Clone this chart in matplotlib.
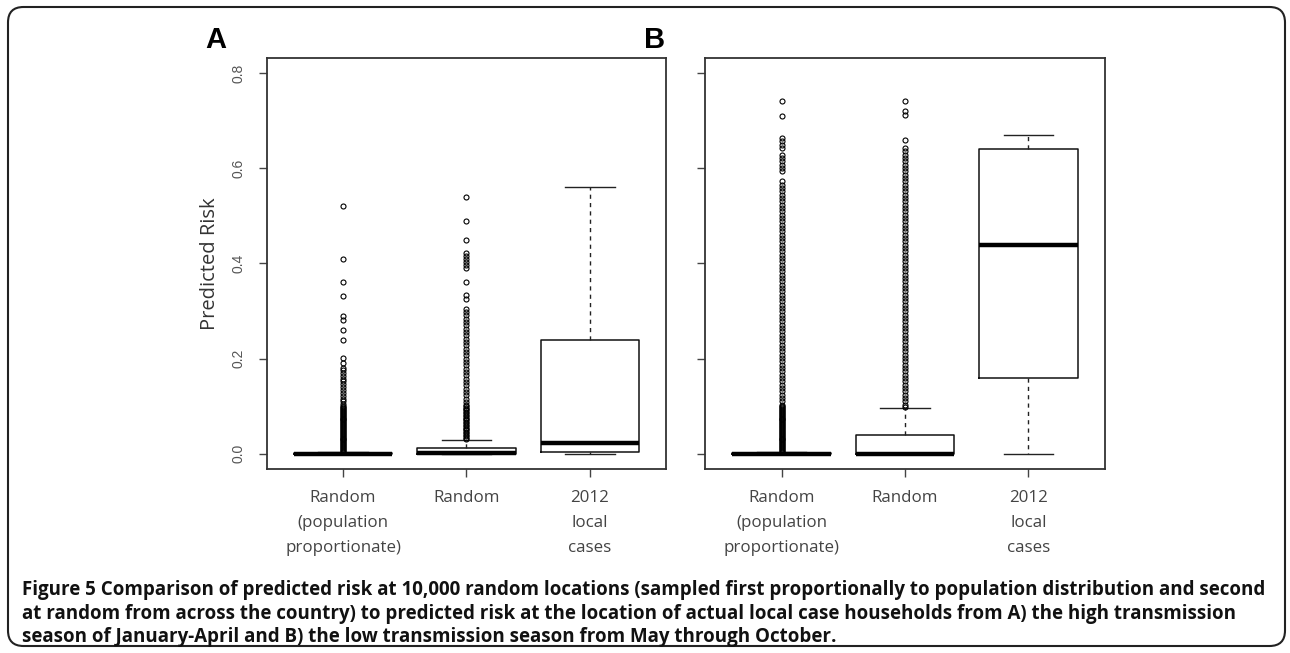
import matplotlib
matplotlib.use("Agg")
import matplotlib.pyplot as plt
from matplotlib.patches import FancyBboxPatch

CATEGORIES = ["Random\n(population\nproportionate)", "Random", "2012\nlocal\ncases"]
Y_TICKS = [0.0, 0.2, 0.4, 0.6, 0.8]
Y_TICK_LABELS = ["0.0", "0.2", "0.4", "0.6", "0.8"]

# Panel A (high transmission season) box summaries
A_Q1 = [0.0, 0.0, 0.004]
A_MED = [0.0, 0.001, 0.023]
A_Q3 = [0.001, 0.012, 0.240]
A_WHISLO = [0.0, 0.0, 0.0]
A_WHISHI = [0.003, 0.029, 0.560]

# Panel B (low transmission season)
B_Q1 = [0.0, 0.0, 0.160]
B_MED = [0.0, 0.0, 0.439]
B_Q3 = [0.001, 0.039, 0.640]
B_WHISLO = [0.0, 0.0, 0.0]
B_WHISHI = [0.003, 0.097, 0.670]

# outliers as they appear in the picture (dense columns read at pixel spacing)
A_POP_FLIERS = [
    0.521, 0.409, 0.360, 0.331, 0.290, 0.280, 0.260, 0.240, 0.202, 0.191, 0.181,
    0.176, 0.170, 0.164, 0.158, 0.152, 0.146, 0.140, 0.134, 0.128, 0.122, 0.116,
    0.110, 0.104,
    0.100, 0.098, 0.096, 0.094, 0.092, 0.090, 0.088, 0.086, 0.084, 0.082, 0.080,
    0.078, 0.076, 0.074, 0.072, 0.070, 0.068, 0.066, 0.064, 0.062, 0.060, 0.058,
    0.056, 0.054, 0.052, 0.050, 0.048, 0.046, 0.044, 0.042, 0.040, 0.038, 0.036,
    0.034, 0.032, 0.030, 0.028, 0.026, 0.024, 0.022, 0.020, 0.018, 0.016, 0.014,
    0.012, 0.010, 0.008, 0.006, 0.004,
]
A_RAND_FLIERS = [
    0.540, 0.490, 0.448, 0.422, 0.416, 0.410, 0.403, 0.397, 0.390, 0.361, 0.333,
    0.326, 0.305, 0.298, 0.291, 0.284, 0.277, 0.270, 0.263, 0.256, 0.249, 0.242,
    0.235, 0.228, 0.221, 0.214, 0.207, 0.200, 0.193, 0.186, 0.179, 0.172, 0.165,
    0.158, 0.151, 0.144, 0.137, 0.130, 0.123, 0.116, 0.109, 0.103,
    0.100, 0.097, 0.094, 0.091, 0.088, 0.085, 0.082, 0.079, 0.076, 0.073, 0.070,
    0.067, 0.064, 0.061, 0.058, 0.055, 0.052, 0.049, 0.046, 0.043, 0.040, 0.037,
    0.034, 0.031,
]
A_CASE_FLIERS = []

B_POP_FLIERS = [
    0.741, 0.710, 0.663, 0.656, 0.649, 0.642, 0.628, 0.621, 0.614, 0.607, 0.600,
    0.593, 0.572, 0.565, 0.558, 0.551, 0.544, 0.537, 0.530, 0.523, 0.516, 0.509,
    0.502, 0.495, 0.488, 0.481, 0.474, 0.467, 0.460, 0.453, 0.446, 0.439, 0.432,
    0.425, 0.418, 0.411, 0.404, 0.397, 0.390, 0.383, 0.376, 0.369, 0.362, 0.355,
    0.348, 0.341, 0.334, 0.327, 0.320, 0.313, 0.306, 0.299, 0.292, 0.285, 0.278,
    0.271, 0.264, 0.257, 0.250, 0.243, 0.236, 0.229, 0.222, 0.215, 0.208, 0.201,
    0.194, 0.187, 0.180, 0.173, 0.166, 0.159, 0.152, 0.145, 0.138, 0.131, 0.124,
    0.117, 0.110, 0.103,
    0.100, 0.098, 0.096, 0.094, 0.092, 0.090, 0.088, 0.086, 0.084, 0.082, 0.080,
    0.078, 0.076, 0.074, 0.072, 0.070, 0.068, 0.066, 0.064, 0.062, 0.060, 0.058,
    0.056, 0.054, 0.052, 0.050, 0.048, 0.046, 0.044, 0.042, 0.040, 0.038, 0.036,
    0.034, 0.032, 0.030, 0.028, 0.026, 0.024, 0.022, 0.020, 0.018, 0.016, 0.014,
    0.012, 0.010, 0.008, 0.006, 0.004,
]
B_RAND_FLIERS = [
    0.741, 0.720, 0.712, 0.659, 0.642, 0.635, 0.628, 0.621, 0.614, 0.607, 0.600,
    0.593, 0.586, 0.579, 0.572, 0.565, 0.558, 0.551, 0.544, 0.537, 0.530, 0.523,
    0.516, 0.509, 0.502, 0.495, 0.488, 0.481, 0.474, 0.467, 0.460, 0.453, 0.446,
    0.439, 0.432, 0.425, 0.418, 0.411, 0.404, 0.397, 0.390, 0.383, 0.376, 0.369,
    0.362, 0.355, 0.348, 0.341, 0.334, 0.327, 0.320, 0.313, 0.306, 0.299, 0.292,
    0.285, 0.278, 0.271, 0.264, 0.257, 0.250, 0.243, 0.236, 0.229, 0.222, 0.215,
    0.208, 0.201, 0.194, 0.187, 0.180, 0.173, 0.166, 0.159, 0.152, 0.145, 0.138,
    0.131, 0.124, 0.117, 0.110, 0.103, 0.098,
]
B_CASE_FLIERS = []

CAPTION_LINES = [
    "Figure 5 Comparison of predicted risk at 10,000 random locations (sampled first "
    "proportionally to population distribution and second",
    "at random from across the country) to predicted risk at the location of actual "
    "local case households from A) the high transmission",
    "season of January-April and B) the low transmission season from May through October.",
]

W, H = 1290, 653
AX_TOP, AX_BOTTOM = 57.7, 469.0
LINE_COL = "#333333"
TEXT_COL = "#444444"


def build_stats(q1, med, q3, lo, hi, fliers):
    return [
        dict(q1=q1[i], med=med[i], q3=q3[i], whislo=lo[i], whishi=hi[i], fliers=fliers[i])
        for i in range(len(q1))
    ]


def draw_panel(fig, left_px, stats, letter, show_labels):
    ax = fig.add_axes([left_px / W, 1 - AX_BOTTOM / H, 400 / W, (AX_BOTTOM - AX_TOP) / H])
    ax.bxp(
        stats,
        positions=[1, 2, 3],
        widths=0.8,
        capwidths=0.4,
        boxprops=dict(color="#111111", linewidth=1.1),
        medianprops=dict(color="black", linewidth=3.2, solid_capstyle="butt"),
        whiskerprops=dict(color="#222222", linewidth=1.0, linestyle=(0, (3, 3))),
        capprops=dict(color="#222222", linewidth=1.0),
        flierprops=dict(marker="o", markerfacecolor="none", markeredgecolor="black",
                        markersize=3.6, markeredgewidth=0.8, linestyle="none"),
        manage_ticks=False,
    )
    ax.set_xlim(0.38, 3.62)
    ax.set_ylim(-0.032, 0.832)
    ax.set_xticks([1, 2, 3])
    ax.set_xticklabels(CATEGORIES, fontsize=12.2, family=["Open Sans", "DejaVu Sans"],
                       color=TEXT_COL, linespacing=1.72)
    ax.set_yticks(Y_TICKS)
    if show_labels:
        ax.set_yticklabels(Y_TICK_LABELS, fontsize=10, color="#555555",
                           family=["Liberation Sans", "DejaVu Sans"])
        for lbl in ax.get_yticklabels():
            lbl.set_rotation(90)
            lbl.set_va("center")
        ax.set_ylabel("Predicted Risk", fontsize=14.5, color="#333333",
                      family=["Open Sans", "DejaVu Sans"])
        ax.yaxis.label.set_va("center")
        ax.yaxis.set_label_coords(-0.141, 0.5)
    else:
        ax.set_yticklabels([])
    ax.tick_params(axis="both", direction="out", length=5.8, width=1.0, color="#444444")
    ax.tick_params(axis="y", pad=9)
    ax.tick_params(axis="x", pad=9.5)
    for sp in ax.spines.values():
        sp.set_color(LINE_COL)
        sp.set_linewidth(1.3)
    fig.text((left_px - 61) / W, 1 - 47.5 / H, letter, fontsize=21, fontweight="bold",
             family=["Liberation Sans", "DejaVu Sans"], ha="left", va="baseline")
    return ax


fig = plt.figure(figsize=(W / 100, H / 100), dpi=100)

border = FancyBboxPatch((8 / W, 7 / H), 1277 / W, 639 / H,
                        boxstyle="round,pad=0,rounding_size=0.012",
                        transform=fig.transFigure, fill=False,
                        edgecolor="#222222", linewidth=1.5, mutation_aspect=W / H)
fig.patches.append(border)

stats_a = build_stats(A_Q1, A_MED, A_Q3, A_WHISLO, A_WHISHI,
                      [A_POP_FLIERS, A_RAND_FLIERS, A_CASE_FLIERS])
stats_b = build_stats(B_Q1, B_MED, B_Q3, B_WHISLO, B_WHISHI,
                      [B_POP_FLIERS, B_RAND_FLIERS, B_CASE_FLIERS])

draw_panel(fig, 266.5, stats_a, "A", True)
draw_panel(fig, 705.0, stats_b, "B", False)

for i, line in enumerate(CAPTION_LINES):
    fig.text(22 / W, 1 - (595 + 23.5 * i) / H, line, fontsize=13.5, fontweight="bold",
             family=["Open Sans", "DejaVu Sans"],
             ha="left", va="baseline", color="#111111")

fig.savefig("out.png", dpi=100)
